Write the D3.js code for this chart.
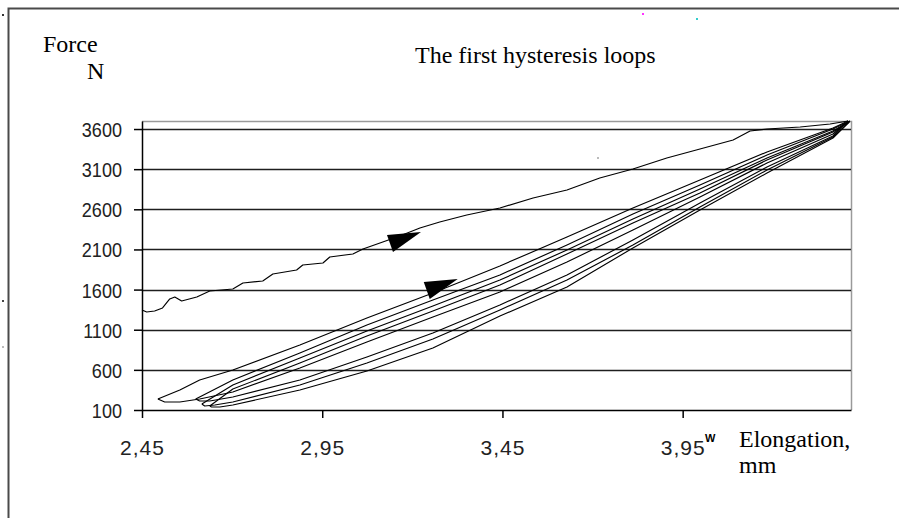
<!DOCTYPE html>
<html><head><meta charset="utf-8">
<script src="https://cdn.jsdelivr.net/npm/d3@7"></script>
<style>html,body{margin:0;padding:0;background:#fff;} svg{display:block}</style>
</head><body>
<script>
// ---------- data ----------
const yTicks = [100, 600, 1100, 1600, 2100, 2600, 3100, 3600];
const xTicks = [2.45, 2.95, 3.45, 3.95];
const xTickLabels = ["2,45", "2,95", "3,45", "3,95"];

// first loading curve (elongation mm, force N)
const firstLoadX = [2.450, 2.463, 2.485, 2.507, 2.527, 2.541, 2.560, 2.602, 2.638, 2.702, 2.730, 2.785, 2.813, 2.879, 2.896, 2.952, 2.971, 3.035, 3.063, 3.118, 3.165, 3.221, 3.276, 3.351, 3.443, 3.535, 3.629, 3.720, 3.812, 3.906, 3.998, 4.090, 4.137, 4.184, 4.276, 4.359, 4.409];
const firstLoadF = [1346, 1321, 1333, 1371, 1483, 1508, 1458, 1508, 1582, 1607, 1682, 1707, 1794, 1844, 1906, 1931, 2006, 2043, 2105, 2193, 2267, 2367, 2442, 2529, 2616, 2741, 2840, 2990, 3102, 3239, 3351, 3463, 3575, 3600, 3625, 3662, 3700];

// hysteresis loops: loading branches
const load1X = [2.494, 2.555, 2.610, 2.702, 2.888, 3.074, 3.257, 3.443, 3.629, 3.812, 3.998, 4.184, 4.367, 4.409];
const load1F = [237, 349, 474, 598, 910, 1246, 1557, 1894, 2255, 2616, 2965, 3314, 3613, 3700];
const load2X = [2.599, 2.702, 2.888, 3.074, 3.257, 3.443, 3.629, 3.812, 3.998, 4.184, 4.367, 4.401];
const load2F = [237, 474, 810, 1159, 1470, 1782, 2155, 2541, 2903, 3276, 3600, 3675];
const load3X = [2.616, 2.702, 2.888, 3.074, 3.257, 3.443, 3.629, 3.812, 3.998, 4.184, 4.367, 4.414];
const load3F = [175, 411, 748, 1084, 1395, 1719, 2093, 2479, 2853, 3239, 3575, 3700];
const load4X = [2.638, 2.702, 2.888, 3.074, 3.257, 3.443, 3.629, 3.812, 3.998, 4.184, 4.367, 4.412];
const load4F = [150, 362, 685, 1022, 1333, 1657, 2043, 2429, 2803, 3214, 3563, 3687];

// unloading branches
const unload1X = [4.409, 4.367, 4.184, 3.998, 3.812, 3.629, 3.443, 3.257, 3.074, 2.888, 2.702, 2.610, 2.555, 2.513, 2.494];
const unload1F = [3700, 3538, 3177, 2753, 2342, 1943, 1570, 1258, 947, 623, 324, 237, 200, 200, 237];
const unload2X = [4.401, 4.367, 4.184, 3.998, 3.812, 3.629, 3.443, 3.257, 3.074, 2.888, 2.702, 2.638, 2.610, 2.599];
const unload2F = [3675, 3513, 3127, 2678, 2218, 1782, 1408, 1059, 760, 474, 262, 212, 212, 237];
const unload3X = [4.414, 4.367, 4.184, 3.998, 3.812, 3.629, 3.443, 3.257, 3.074, 2.888, 2.702, 2.652, 2.624, 2.616];
const unload3F = [3700, 3500, 3089, 2629, 2155, 1719, 1346, 984, 685, 411, 200, 162, 150, 175];
const unload4X = [4.412, 4.367, 4.184, 3.998, 3.812, 3.629, 3.443, 3.257, 3.074, 2.888, 2.702, 2.666, 2.643, 2.638];
const unload4F = [3687, 3488, 3052, 2591, 2118, 1632, 1271, 872, 586, 349, 162, 137, 137, 150];

// direction arrows (tip position in data units)
const arrowTipX = [3.224, 3.326];
const arrowTipF = [2317, 1732];

// ---------- drawing ----------
const W = 899, H = 518;
const svg = d3.select("body").append("svg").attr("width", W).attr("height", H);

const x = d3.scaleLinear().domain([2.45, 4.417]).range([142, 851]);
const y = d3.scaleLinear().domain([100, 3700]).range([410, 121]);

// outer frame
svg.append("path").attr("d", `M8.5,${H} V8.5 H${W}`).attr("fill", "none")
  .attr("stroke", "#4a4a4a").attr("stroke-width", 2);

// top & right plot border (grey)
svg.append("path").attr("d", `M142,121.5 H851.5 V410`).attr("fill", "none")
  .attr("stroke", "#9a9a9a").attr("stroke-width", 1.5);

// gridlines
svg.append("g").selectAll("line").data(yTicks.filter(d => d > 100)).join("line")
  .attr("x1", 142).attr("x2", 851)
  .attr("y1", d => Math.round(y(d)) + 0.5).attr("y2", d => Math.round(y(d)) + 0.5)
  .attr("stroke", "#1e1e1e").attr("stroke-width", 1.5);

const tickFont = "'Liberation Sans', Arial, sans-serif";

// y axis
const gy = svg.append("g").attr("transform", "translate(142,0)")
  .call(d3.axisLeft(y).tickValues(yTicks).tickSize(8).tickSizeOuter(0).tickPadding(0).tickFormat(d3.format("d")));
gy.select(".domain").attr("stroke", "#000").attr("stroke-width", 1.5);
gy.selectAll(".tick line").attr("stroke", "#000").attr("stroke-width", 1.5);
gy.selectAll(".tick text").attr("x", null).attr("dy", null)
  .attr("transform", "translate(-20,7.5) scale(0.86,1)")
  .attr("font-family", tickFont).attr("font-size", 21).attr("fill", "#222").attr("text-anchor", "end");

// x axis
const gx = svg.append("g").attr("transform", "translate(0,410)")
  .call(d3.axisBottom(x).tickValues(xTicks).tickSize(8).tickSizeOuter(0).tickFormat((d, i) => xTickLabels[i]));
gx.select(".domain").attr("stroke", "#000").attr("stroke-width", 1.5);
gx.selectAll(".tick line").attr("stroke", "#000").attr("stroke-width", 1.5);
gx.selectAll(".tick text").attr("y", null).attr("dy", null)
  .attr("transform", "translate(0,45)")
  .attr("letter-spacing", 1)
  .attr("font-family", tickFont).attr("font-size", 21).attr("fill", "#222");

// curves
const line = d3.line().x(d => x(d[0])).y(d => y(d[1]));
const series = [
  [firstLoadX, firstLoadF],
  [load1X, load1F], [unload1X, unload1F],
  [load2X, load2F], [unload2X, unload2F],
  [load3X, load3F], [unload3X, unload3F],
  [load4X, load4F], [unload4X, unload4F]
];
svg.append("g").selectAll("path").data(series).join("path")
  .attr("d", s => line(s[0].map((v, i) => [v, s[1][i]])))
  .attr("fill", "none").attr("stroke", "#000").attr("stroke-width", 1.15)
  .attr("stroke-linejoin", "round");

// arrows
svg.append("g").selectAll("path").data(arrowTipX.map((v, i) => [v, arrowTipF[i]])).join("path")
  .attr("d", d => {
    const tx = x(d[0]), ty = y(d[1]);
    return `M${tx},${ty} L${tx - 34},${ty + 3} L${tx - 28},${ty + 20} Z`;
  })
  .attr("fill", "#000");

// texts
const serif = "'Liberation Serif', 'Times New Roman', serif";
svg.append("text").attr("x", 43).attr("y", 52).attr("font-family", serif).attr("font-size", 24).text("Force");
svg.append("text").attr("x", 87).attr("y", 79).attr("font-family", serif).attr("font-size", 24).text("N");
svg.append("text").attr("x", 415).attr("y", 63).attr("font-family", serif).attr("font-size", 24).text("The first hysteresis loops");
svg.append("text").attr("x", 739).attr("y", 447).attr("font-family", serif).attr("font-size", 24).text("Elongation,");
svg.append("text").attr("x", 739).attr("y", 473).attr("font-family", serif).attr("font-size", 24).text("mm");
svg.append("text").attr("x", 705).attr("y", 442).attr("font-family", tickFont).attr("font-size", 11)
  .attr("font-weight", "bold").text("W");

// small specks present in the original
const specks = [[3, 15, "#333"], [643, 14, "#ff33ff"], [697, 19, "#33cccc"], [3, 301, "#444"], [3, 347, "#bbb"], [598, 158, "#bbb"]];
svg.append("g").selectAll("rect").data(specks).join("rect")
  .attr("x", d => d[0] - 1).attr("y", d => d[1] - 1).attr("width", 2).attr("height", 2).attr("fill", d => d[2]);
</script>
</body></html>
